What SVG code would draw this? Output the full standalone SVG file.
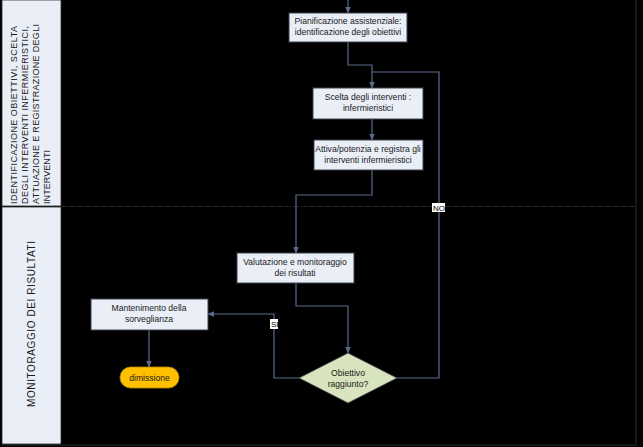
<svg xmlns="http://www.w3.org/2000/svg" width="643" height="447" viewBox="0 0 643 447">
<defs>
<style>
.box{fill:#E9EEF7;stroke:#3F4350;stroke-width:1}
.t{font-family:"Liberation Sans",Arial,sans-serif;font-size:8.6px;fill:#1a1a1a;text-anchor:middle}
.lane{font-family:"Liberation Sans",Arial,sans-serif;font-size:9px;fill:#1a1a1a}
.c{fill:none;stroke:#5A6A8C;stroke-width:1.2}
.lbl{font-family:"Liberation Sans",Arial,sans-serif;font-size:8px;fill:#000}
</style>
<marker id="ah" viewBox="0 0 10 10" refX="9" refY="5" markerWidth="7" markerHeight="7" orient="auto" markerUnits="userSpaceOnUse">
<path d="M0,1 L10,5 L0,9 z" fill="#5A6A8C"/>
</marker>
</defs>
<rect x="0" y="0" width="643" height="447" fill="#000"/>
<g id="lanes">
<rect x="2" y="0" width="59" height="206" fill="#E9EEF7" stroke="#2a2a2a" stroke-width="0.8"/>
<rect x="2" y="207" width="59" height="237" fill="#E9EEF7" stroke="#2a2a2a" stroke-width="0.8"/>
<line x1="61" y1="206.5" x2="636" y2="206.5" stroke="#2f2f2f" stroke-width="0.8" stroke-dasharray="6,2"/>
<line x1="636" y1="0" x2="636" y2="445" stroke="#2e2e2e" stroke-width="1"/>
<line x1="2" y1="445" x2="636" y2="445" stroke="#2e2e2e" stroke-width="1"/>
<g transform="translate(17,204) rotate(-90)">
<text class="lane" x="0" y="0" textLength="178" lengthAdjust="spacing">IDENTIFICAZIONE OBIETTIVI, SCELTA</text>
<text class="lane" x="0" y="11" textLength="178" lengthAdjust="spacing">DEGLI INTERVENTI INFERMIERISTICI,</text>
<text class="lane" x="0" y="22" textLength="180" lengthAdjust="spacing">ATTUAZIONE E REGISTRAZIONE DEGLI</text>
<text class="lane" x="0" y="33" textLength="54" lengthAdjust="spacing">INTERVENTI</text>
</g>
<text class="lane" transform="translate(35,407) rotate(-90)" x="0" y="0" textLength="166" lengthAdjust="spacing" style="font-size:10px">MONITORAGGIO DEI RISULTATI</text>
</g>
<g id="connectors">
<path class="c" d="M348,0 V13" marker-end="url(#ah)"/>
<path class="c" d="M348,42 V65 H372 V88" marker-end="url(#ah)"/>
<path class="c" d="M372,119 V140" marker-end="url(#ah)"/>
<path class="c" d="M372,170 V195 H296 V253" marker-end="url(#ah)"/>
<path class="c" d="M296,283 V306 H348 V353" marker-end="url(#ah)"/>
<path class="c" d="M397,378 H439 V72 H372"/>
<path class="c" d="M299,378 H274 V314 H208" marker-end="url(#ah)"/>
<path class="c" d="M149,330 V367" marker-end="url(#ah)"/>
<rect x="432" y="203" width="13" height="9" fill="#fff"/>
<text class="lbl" x="433" y="211">NO</text>
<rect x="270" y="319" width="8" height="10" fill="#fff"/>
<text class="lbl" x="271" y="327">SI</text>
</g>
<g id="n1">
<rect class="box" x="289" y="13" width="118" height="29"/>
<text class="t" x="348" y="24">Pianificazione assistenziale:</text>
<text class="t" x="348" y="35">identificazione degli obiettivi</text>
</g>
<g id="n2">
<rect class="box" x="313" y="88" width="110" height="31"/>
<text class="t" x="368" y="100">Scelta degli interventi :</text>
<text class="t" x="368" y="111">infermieristici</text>
</g>
<g id="n3">
<rect class="box" x="314" y="140" width="109" height="30"/>
<text class="t" x="368" y="152">Attiva/potenzia e registra gli</text>
<text class="t" x="368" y="163">interventi infermieristici</text>
</g>
<g id="n4">
<rect class="box" x="237" y="253" width="117" height="30"/>
<text class="t" x="295" y="265">Valutazione e monitoraggio</text>
<text class="t" x="295" y="276">dei risultati</text>
</g>
<g id="n5">
<rect class="box" x="91" y="299" width="117" height="31"/>
<text class="t" x="149" y="311">Mantenimento della</text>
<text class="t" x="149" y="322">sorveglianza</text>
</g>
<g id="n6">
<rect x="120" y="367" width="59" height="21" rx="10.5" fill="#FFC000" stroke="#B8860B" stroke-width="0.8"/>
<text class="t" x="149.5" y="380.5">dimissione</text>
</g>
<g id="n7">
<polygon points="348,353 397,378 348,403 299,378" fill="#D7E4BD" stroke="#3F4350" stroke-width="0.8"/>
<text class="t" x="348" y="376">Obiettivo</text>
<text class="t" x="348" y="387">raggiunto?</text>
</g>
</svg>
